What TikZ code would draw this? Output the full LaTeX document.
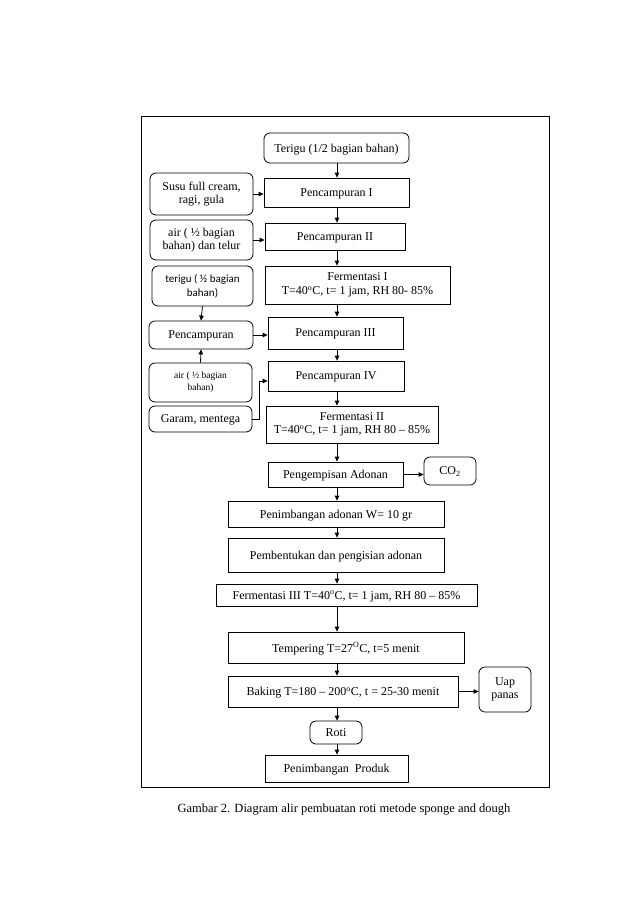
\documentclass[tikz,border=0pt]{standalone}
\usepackage{fontspec}
\setmainfont{Liberation Serif}
\newfontfamily\calib{Carlito}
\usetikzlibrary{arrows.meta,positioning}
\tikzset{
  box/.style={draw, line width=0.8pt, inner sep=0pt, font=\fontsize{12}{13.5}\selectfont, text depth=0pt},
  rbox/.style={box, rounded corners=6pt},
  two/.style={align=center, text depth=, text height=},
  arr/.style={line width=0.8pt, -{Triangle[length=5pt,width=4.5pt]}},
}
\newcommand{\bx}[5]{\node[#1, minimum width=#4pt, minimum height=#5pt] (#2) at #3}
\begin{document}
\begin{tikzpicture}[x=1pt,y=-1pt]
\useasboundingbox (0,0) rectangle (638,903);
\node[draw, line width=0.8pt, minimum width=408pt, minimum height=671pt, inner sep=0pt] (frame) at (345,451.5) {};
\coordinate (axis) at (337,0);
% main column
\bx{rbox}{ter1}{(336.5,148)}{145}{30} {Terigu (1/2 bagian bahan)};
\bx{box}{p1}{(336.5,192.5)}{145}{29} {Pencampuran I};
\bx{box}{p2}{(335,236.5)}{140}{27} {Pencampuran II};
\bx{box,two}{f1}{(357.5,285)}{185}{38} {Fermentasi I\\T=40\textsuperscript{o}C, t= 1 jam, RH 80- 85\%};
\bx{box}{p3}{(335.5,333)}{135}{32} {Pencampuran III};
\bx{box}{p4}{(336,376)}{136}{30} {Pencampuran IV};
\bx{box,two}{f2}{(352,424.5)}{172}{37} {Fermentasi II\\T=40\textsuperscript{o}C, t= 1 jam, RH 80 -- 85\%};
\bx{box}{peng}{(335.5,474.5)}{135}{25} {Pengempisan Adonan};
\bx{box}{pen}{(336,514)}{216}{26} {Penimbangan adonan W= 10 gr};
\bx{box}{pem}{(336,555)}{216}{34} {Pembentukan dan pengisian adonan};
\bx{box}{f3}{(346.5,595)}{261}{22} {Fermentasi III T=40\textsuperscript{o}C, t= 1 jam, RH 80 -- 85\%};
\bx{box}{temp}{(346,647.5)}{236}{31} {Tempering T=27\textsuperscript{O}C, t=5 menit};
\bx{box}{bak}{(343,691.5)}{230}{31} {Baking T=180 -- 200\textsuperscript{o}C, t = 25-30 menit};
\bx{rbox}{roti}{(336,732.5)}{52}{23} {Roti};
\bx{box}{prod}{(336.5,768.5)}{143}{27} {Penimbangan\ \ Produk};
% side boxes
\bx{rbox,two}{susu}{(201.5,194)}{103}{42} {Susu full cream,\\ragi, gula};
\bx{rbox,two}{air1}{(201.5,240)}{103}{40} {air ( \textonehalf{} bagian\\bahan) dan telur};
\bx{rbox,two, font=\calib\fontsize{11}{14}\selectfont}{ter2}{(202.5,286)}{101}{40} {terigu ( \textonehalf{} bagian\\bahan)};
\bx{rbox}{pc}{(201,335)}{104}{28} {Pencampuran};
\bx{rbox,two, font=\fontsize{9.5}{12}\selectfont}{air2}{(200.5,382.5)}{103}{39} {air ( \textonehalf{} bagian\\bahan)};
\bx{rbox}{garam}{(200.5,419)}{103}{26} {Garam, mentega};
\bx{rbox}{co2}{(450,471)}{52}{28} {CO\textsubscript{2}};
\bx{rbox,two}{uap}{(505,689.5)}{52}{45} {Uap\\panas};
% caption
\node[font=\fontsize{12.5}{14}\selectfont, inner sep=0pt, text depth=0pt] (cap) at (344,808) {Gambar 2. Diagram alir pembuatan roti metode sponge and dough};
% main arrows
\foreach \a/\b in {ter1/p1,p1/p2,p2/f1,f1/p3,p3/p4,p4/f2,f2/peng,peng/pen,pen/pem,pem/f3,f3/temp,temp/bak,bak/roti,roti/prod}
  \draw[arr] (\a.south -| axis) -- (\b.north -| axis);
% side arrows
\draw[arr] (susu.east) -- (susu.east -| p1.west);
\draw[arr] (air1.east) -- (air1.east -| p2.west);
\draw[arr] (pc.east) -- (pc.east -| p3.west);
\draw[arr] (ter2.south) -- (pc.north);
\draw[arr] (air2.north) -- (pc.south);
\coordinate (gbend) at (259,381);
\draw[arr] (garam.east) -| (gbend) -- (gbend -| p4.west);
\draw[arr] (peng.east) -- (peng.east -| co2.west);
\draw[arr] (bak.east) -- (bak.east -| uap.west);
\end{tikzpicture}
\end{document}
